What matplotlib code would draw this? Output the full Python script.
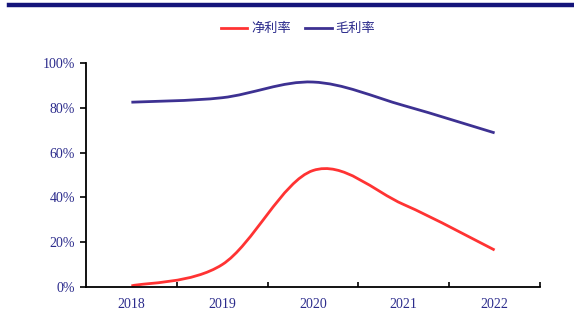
import matplotlib
matplotlib.use("Agg")
import matplotlib.pyplot as plt
from matplotlib.path import Path
from matplotlib.patches import PathPatch
from matplotlib.lines import Line2D

years = ["2018", "2019", "2020", "2021", "2022"]
net_margin = [0.5, 10.0, 52.0, 36.8, 16.5]     # 净利率 (%)
gross_margin = [82.5, 84.5, 91.5, 81.0, 68.8]  # 毛利率 (%)

navy = "#2B2B8C"
red = "#FF3333"
blue = "#3D3192"


def smooth_path(xs, ys):
    # Catmull-Rom style smoothing, drawn as cubic bezier segments
    pts = list(zip(xs, ys))
    verts = [pts[0]]
    codes = [Path.MOVETO]
    n = len(pts)
    for i in range(n - 1):
        p0 = pts[i - 1] if i > 0 else pts[i]
        p1 = pts[i]
        p2 = pts[i + 1]
        p3 = pts[i + 2] if i + 2 < n else pts[i + 1]
        c1 = (p1[0] + (p2[0] - p0[0]) / 6, p1[1] + (p2[1] - p0[1]) / 6)
        c2 = (p2[0] - (p3[0] - p1[0]) / 6, p2[1] - (p3[1] - p1[1]) / 6)
        verts += [c1, c2, p2]
        codes += [Path.CURVE4] * 3
    return Path(verts, codes)


fig = plt.figure(figsize=(5.74, 3.18), dpi=100)
ax = fig.add_axes([0.1498, 0.0975, 0.791, 0.7044])

x = list(range(len(years)))
for vals, col in [(net_margin, red), (gross_margin, blue)]:
    ax.add_patch(PathPatch(smooth_path(x, vals), facecolor="none",
                           edgecolor=col, lw=2.0, capstyle="butt"))

ax.set_xlim(-0.5, 4.5)
ax.set_ylim(0, 100)
ax.set_yticks([0, 20, 40, 60, 80, 100])
ax.set_yticklabels([f"{v}%" for v in [0, 20, 40, 60, 80, 100]])
ax.set_xticks(x)
ax.set_xticklabels(years)
ax.set_xticks([0.5, 1.5, 2.5, 3.5, 4.5], minor=True)

for lab in ax.get_xticklabels() + ax.get_yticklabels():
    lab.set_family("Liberation Serif")
    lab.set_fontsize(10)
    lab.set_color(navy)

ax.tick_params(axis="x", which="major", length=0, pad=8)
ax.tick_params(axis="x", which="minor", direction="in", length=3.5, width=1.2)
ax.tick_params(axis="y", direction="out", length=4, width=1.2, pad=4)
ax.spines["top"].set_visible(False)
ax.spines["right"].set_visible(False)
ax.spines["left"].set_linewidth(1.3)
ax.spines["bottom"].set_linewidth(1.3)

handles = [Line2D([], [], color=red, lw=2.0), Line2D([], [], color=blue, lw=2.0)]
leg = fig.legend(handles, ["净利率", "毛利率"], loc="center",
                 bbox_to_anchor=(0.519, 0.909), ncol=2, frameon=False,
                 prop={"family": ["Noto Sans CJK SC", "DejaVu Sans"], "size": 9.5},
                 handlelength=2.0, handletextpad=0.3, columnspacing=1.1)
for t in leg.get_texts():
    t.set_color(navy)

# dark band along the top of the page
fig.add_artist(Line2D([9 / 574, 1.0], [1 - 5 / 318, 1 - 5 / 318],
                      transform=fig.transFigure, color="#14147A", lw=3.2))

fig.savefig("out.png", dpi=100)
